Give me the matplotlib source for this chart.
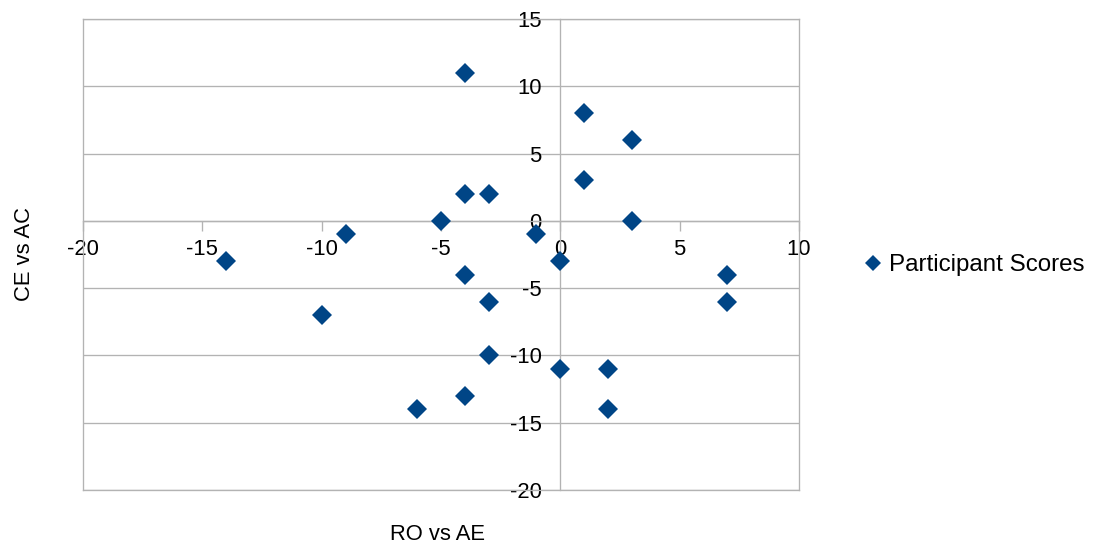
import matplotlib
matplotlib.use("Agg")
import matplotlib.pyplot as plt
from matplotlib.lines import Line2D

# Participant scores on the two dimensions
ro_vs_ae = [-4, 1, 3, 1, -4, -3, -5, 3, -9, -1, -14, 0, -4, 7, -3, 7, -10, -3, 0, 2, -4, -6, 2]
ce_vs_ac = [11, 8, 6, 3, 2, 2, 0, 0, -1, -1, -3, -3, -4, -4, -6, -6, -7, -10, -11, -11, -13, -14, -14]

x_ticks = [-20, -15, -10, -5, 0, 5, 10]
y_ticks = [-20, -15, -10, -5, 0, 5, 10, 15]

series_name = "Participant Scores"
x_title = "RO vs AE"
y_title = "CE vs AC"

plt.rcParams["font.family"] = ["Liberation Sans", "DejaVu Sans"]
plt.rcParams["font.size"] = 15.8
plt.rcParams["axes.unicode_minus"] = False

W, H = 1096, 548
grid_col = "#b3b3b3"
grid_lw = 0.95
marker_col = "#004586"

fig = plt.figure(figsize=(W / 100, H / 100), dpi=100)
ax = fig.add_axes([83 / W, 1 - 490 / H, (799 - 83) / W, (490 - 19) / H])
ax.set_xlim(x_ticks[0], x_ticks[-1])
ax.set_ylim(y_ticks[0], y_ticks[-1])

# axes cross at the origin; outer frame drawn as border lines
ax.spines["left"].set_position(("data", 0))
ax.spines["bottom"].set_position(("data", 0))
for sp in ax.spines.values():
    sp.set_color(grid_col)
    sp.set_linewidth(grid_lw)
ax.axvline(x_ticks[0], color=grid_col, lw=grid_lw, clip_on=False, zorder=1)
ax.axhline(y_ticks[0], color=grid_col, lw=grid_lw, clip_on=False, zorder=1)

ax.set_xticks(x_ticks)
ax.set_yticks(y_ticks)
ax.yaxis.grid(True, color=grid_col, lw=grid_lw, zorder=0)
ax.set_axisbelow(True)
ax.tick_params(axis="y", length=0, pad=13.5, labelcolor="#000000")
ax.tick_params(axis="x", length=7.2, width=grid_lw, direction="out",
               color=grid_col, pad=6, labelcolor="#000000")

ax.plot(ro_vs_ae, ce_vs_ac, linestyle="none", marker="D", markersize=10,
        color=marker_col, markeredgewidth=0, zorder=3, clip_on=False)

fig.text(25 / W, 1 - 254 / H, y_title, rotation=90, ha="center", va="center")
fig.text(438 / W, 1 - 535 / H, x_title, ha="center", va="center")

handle = Line2D([], [], linestyle="none", marker="D", markersize=8.5,
                color=marker_col, markeredgewidth=0)
fig.legend([handle], [series_name], loc="center left",
           bbox_to_anchor=(864 / W, 1 - 265 / H), frameon=False,
           borderpad=0, borderaxespad=0, handlelength=0.75, handletextpad=0.28,
           fontsize=17.4)

fig.savefig("out.png", dpi=100, facecolor="white")
